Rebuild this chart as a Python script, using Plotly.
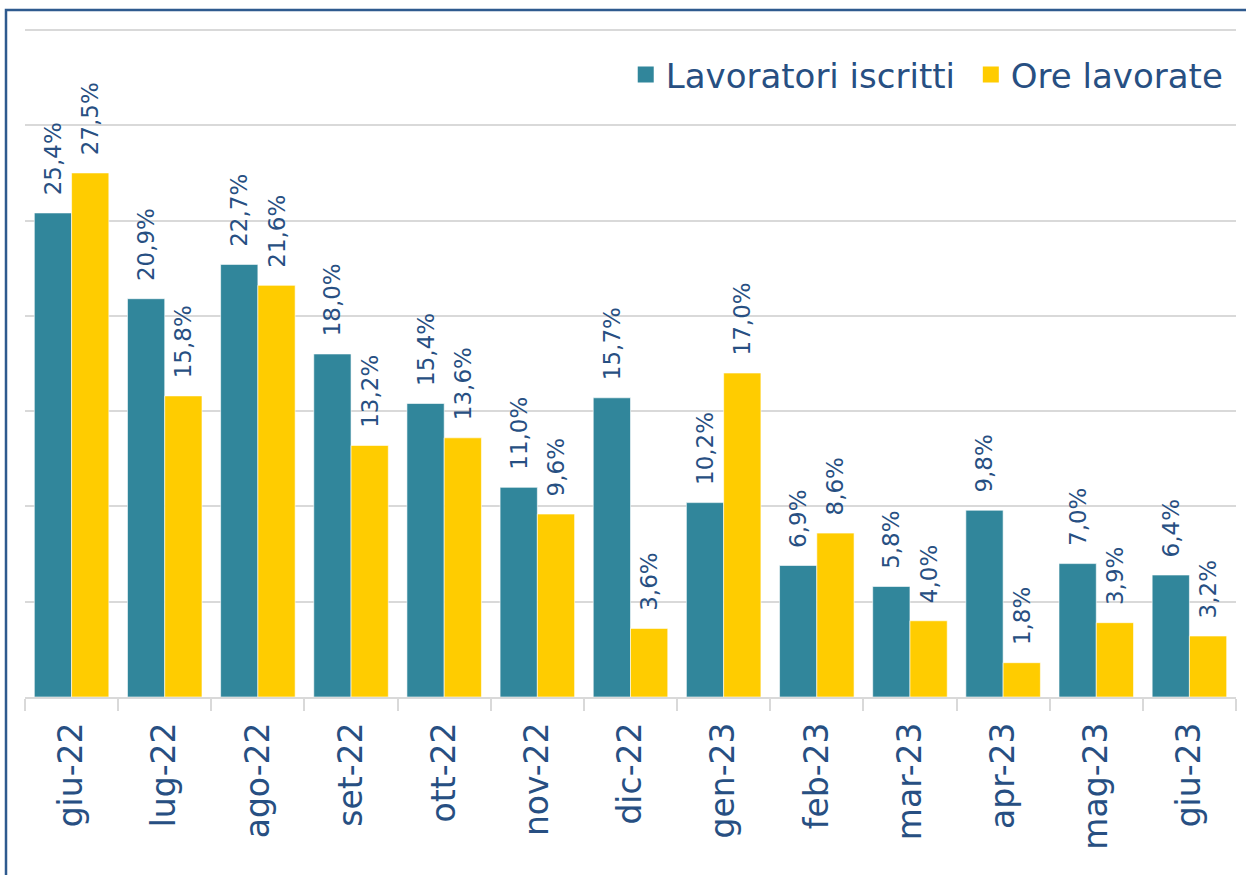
import plotly.graph_objects as go

categories = ["giu-22", "lug-22", "ago-22", "set-22", "ott-22", "nov-22", "dic-22",
              "gen-23", "feb-23", "mar-23", "apr-23", "mag-23", "giu-23"]
lavoratori = [25.4, 20.9, 22.7, 18.0, 15.4, 11.0, 15.7, 10.2, 6.9, 5.8, 9.8, 7.0, 6.4]
ore = [27.5, 15.8, 21.6, 13.2, 13.6, 9.6, 3.6, 17.0, 8.6, 4.0, 1.8, 3.9, 3.2]
series_names = ["Lavoratori iscritti", "Ore lavorate"]
grid_vals = [0, 5, 10, 15, 20, 25, 30, 35]

TEAL = "#31869B"
YELLOW = "#FFCC00"
TXT = "#274F82"
FONT = "DejaVu Sans"
NB = "\u00a0"

def fmt(v):
    return NB * 2 + f"{v:.1f}".replace(".", ",") + "%"

fig = go.Figure()
for name, vals, col in [(series_names[0], lavoratori, TEAL), (series_names[1], ore, YELLOW)]:
    fig.add_trace(go.Bar(
        x=categories, y=vals, name=name, showlegend=False,
        marker=dict(color=col, line=dict(color="white", width=0.6)),
        text=[fmt(v) for v in vals], textposition="outside", textangle=-90,
        constraintext="none",
        textfont=dict(family=FONT, size=23, color=TXT),
        cliponaxis=False,
    ))
# legend entries with larger square swatches
for i, (name, col) in enumerate([(series_names[0], TEAL), (series_names[1], YELLOW)]):
    fig.add_trace(go.Scatter(
        x=[categories[0]], y=[None], mode="markers",
        name=name + (NB if i == 0 else ""),
        marker=dict(symbol="square", size=16, color=col),
        showlegend=True, hoverinfo="skip",
    ))

W, H = 1246, 875
PX_PER_UNIT = 667 / 35.0
ml, mr, mb = 25, 10, 178
mt = 20
ph = H - mt - mb
ymax = ph / PX_PER_UNIT
pw = W - ml - mr

fig.update_layout(
    width=W, height=H,
    margin=dict(l=ml, r=mr, t=mt, b=mb, autoexpand=False),
    paper_bgcolor="white", plot_bgcolor="white",
    barmode="group", bargap=0.2, bargroupgap=0,
    font=dict(family=FONT, color=TXT),
    legend=dict(orientation="h", x=0.994, xanchor="right",
                y=(H - mb - 75) / ph, yanchor="middle",
                font=dict(family=FONT, size=34, color=TXT), bgcolor="rgba(0,0,0,0)",
                itemwidth=30, itemsizing="trace"),
    shapes=[dict(type="rect", xref="paper", yref="paper",
                 x0=(6 - ml) / pw, x1=1.05, y0=-0.5, y1=1 + (mt - 10) / ph,
                 line=dict(color="#2E5A8E", width=2.5), fillcolor="rgba(0,0,0,0)", layer="above")],
)
fig.update_xaxes(
    type="category", range=[-0.5, len(categories) - 0.5],
    tickangle=-90, tickfont=dict(family=FONT, size=33, color=TXT),
    tickvals=categories, ticktext=[c + NB for c in categories],
    showline=True, linecolor="#D9D9D9", linewidth=1.5,
    ticks="outside", tickson="boundaries", ticklen=12, tickcolor="#D9D9D9", tickwidth=1.5,
    showgrid=False, fixedrange=True,
)
fig.update_yaxes(
    range=[0, ymax], tickvals=grid_vals, showticklabels=False, showgrid=True,
    gridcolor="#D9D9D9", gridwidth=1.5, zeroline=False, showline=False, fixedrange=True,
)

fig.write_html("out.html", config={"displayModeBar": False},
               post_script="document.body.style.margin='0';document.body.style.padding='0';")
